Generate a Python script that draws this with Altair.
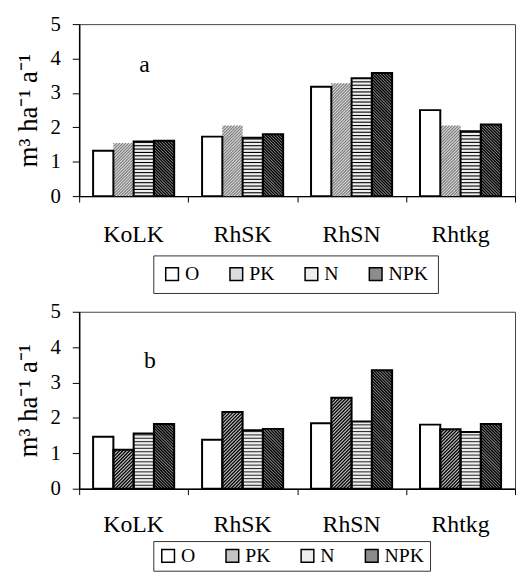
import altair as alt
import numpy as np
import pandas as pd

categories = ["KoLK", "RhSK", "RhSN", "Rhtkg"]
series = ["O", "PK", "N", "NPK"]
values_a = {
    "O":   [1.32, 1.73, 3.18, 2.50],
    "PK":  [1.54, 2.05, 3.28, 2.05],
    "N":   [1.59, 1.70, 3.43, 1.89],
    "NPK": [1.61, 1.80, 3.58, 2.08],
}
values_b = {
    "O":   [1.47, 1.38, 1.85, 1.81],
    "PK":  [1.10, 2.17, 2.57, 1.68],
    "N":   [1.56, 1.65, 1.90, 1.60],
    "NPK": [1.83, 1.69, 3.35, 1.83],
}
y_ticks = [0, 1, 2, 3, 4, 5]

FONT = "Liberation Serif"
W = 441
BW = 0.186  # bar width in category units


def bars_df(vals):
    rows = []
    for i, c in enumerate(categories):
        for j, s in enumerate(series):
            x0 = i + 0.5 - 2 * BW + j * BW
            rows.append(dict(cat=c, series=s, x=x0, x2=x0 + BW, v=vals[s][i]))
    return pd.DataFrame(rows)


def hatch_df(vals, H, styles):
    sx = W / 4.0
    sy = H / 5.0
    rows = []
    for i, c in enumerate(categories):
        for j, s in enumerate(series):
            if s not in styles:
                continue
            kind, sp, col, sw = styles[s]
            v = vals[s][i]
            x0 = i + 0.5 - 2 * BW + j * BW
            Wp = BW * sx
            Hp = v * sy
            if kind == "-":
                for yy in np.arange(sp, Hp - 0.5, sp):
                    rows.append(dict(x=x0, x2=x0 + BW, y=yy / sy, y2=yy / sy, col=col, sw=sw))
            elif kind == "/":
                for cc in np.arange(-Wp + sp / 2, Hp, sp):
                    xa = max(0.0, -cc)
                    xb = min(Wp, Hp - cc)
                    if xb > xa:
                        rows.append(dict(x=x0 + xa / sx, x2=x0 + xb / sx,
                                         y=(xa + cc) / sy, y2=(xb + cc) / sy, col=col, sw=sw))
            else:  # backslash
                for cc in np.arange(sp / 2, Wp + Hp, sp):
                    xa = max(0.0, cc - Hp)
                    xb = min(Wp, cc)
                    if xb > xa:
                        rows.append(dict(x=x0 + xa / sx, x2=x0 + xb / sx,
                                         y=(cc - xa) / sy, y2=(cc - xb) / sy, col=col, sw=sw))
    return pd.DataFrame(rows)


AX_X = alt.Axis(values=[0, 1, 2, 3, 4], labels=False, title=None, grid=False,
                tickSize=6, tickColor="black", domainColor="black", domainWidth=1.5)
AX_Y = alt.Axis(values=y_ticks, title="m³ ha⁻¹ a⁻¹", grid=False, tickSize=7,
                labelOverlap=False, tickColor="black", domainColor="black", domainWidth=1.5,
                labelFont=FONT, labelFontSize=21, labelColor="black", labelPadding=12,
                titleFont=FONT, titleFontSize=27, titleFontWeight="normal",
                titleColor="black", titlePadding=8)


def panel(vals, H, letter, letter_pos, fills, styles, no_outline, label_dy, legend_dy, lpad):
    xs = alt.Scale(domain=[0, 4], nice=False, zero=False)
    ys = alt.Scale(domain=[0, 5], nice=False)
    bdf = bars_df(vals)
    base = alt.Chart(bdf)
    fill = base.mark_rect(strokeWidth=0).encode(
        x=alt.X("x:Q", scale=xs, axis=AX_X),
        x2="x2:Q",
        y=alt.Y("v:Q", scale=ys, axis=AX_Y),
        y2=alt.datum(0),
        fill=alt.Fill("series:N", scale=alt.Scale(domain=series, range=fills),
                      legend=alt.Legend(title=None, orient="none", legendX=75, legendY=H + legend_dy,
                                        direction="horizontal", symbolType="square",
                                        symbolSize=165, symbolStrokeColor="black",
                                        symbolStrokeWidth=1.5, labelFont=FONT, labelFontSize=20,
                                        labelColor="black", columnPadding=27, padding=lpad,
                                        strokeColor="#333", labelOffset=3)),
    )
    hdf = hatch_df(vals, H, styles)
    hatch = alt.Chart(hdf).mark_rule().encode(
        x=alt.X("x:Q", scale=xs, axis=AX_X), x2="x2:Q",
        y=alt.Y("y:Q", scale=ys, axis=AX_Y), y2="y2:Q",
        color=alt.Color("col:N", scale=None),
        strokeWidth=alt.StrokeWidth("sw:Q", scale=None),
    )
    outline = base.transform_filter(
        alt.FieldOneOfPredicate(field="series", oneOf=[s for s in series if s not in no_outline])
    ).mark_rect(fillOpacity=0, stroke="black", strokeWidth=2).encode(
        x=alt.X("x:Q", scale=xs, axis=AX_X), x2="x2:Q",
        y=alt.Y("v:Q", scale=ys, axis=AX_Y), y2=alt.datum(0),
    )
    cat_df = pd.DataFrame({"cat": categories, "xc": [i + 0.5 for i in range(len(categories))]})
    cats = alt.Chart(cat_df).mark_text(font=FONT, fontSize=24, color="black", dy=label_dy,
                                       baseline="middle").encode(
        x=alt.X("xc:Q", scale=xs, axis=AX_X), y=alt.YDatum(0, scale=ys, axis=AX_Y), text="cat:N")
    let_df = pd.DataFrame({"t": [letter], "x": [letter_pos[0]], "y": [letter_pos[1]]})
    let = alt.Chart(let_df).mark_text(font=FONT, fontSize=24, color="black").encode(
        x=alt.X("x:Q", scale=xs, axis=AX_X), y=alt.Y("y:Q", scale=ys, axis=AX_Y), text="t:N")
    return alt.layer(fill, hatch, outline, cats, let).properties(width=W, height=H)


styles_a = {"PK": ("/", 3.0, "#7a7a7a", 1.1), "N": ("-", 3.4, "black", 1.1), "NPK": ("\\", 3.0, "black", 1.3)}
styles_b = {"PK": ("/", 3.4, "black", 1.3), "N": ("-", 3.4, "#333", 1.1), "NPK": ("\\", 3.0, "black", 1.3)}

pa = panel(values_a, 174, "a", (0.6, 3.8), ["white", "#dcdcdc", "#eeeeee", "#8c8c8c"],
           styles_a, ["PK"], 39, 60, 9)
pb = panel(values_b, 179, "b", (0.65, 3.6), ["white", "#c4c4c4", "#eeeeee", "#8c8c8c"],
           styles_b, [], 37, 53, 5)

chart = alt.vconcat(pa, pb, spacing=6).resolve_scale(fill="independent").configure_view(
    stroke="#444", strokeWidth=1
).properties(background="white", padding={"left": 6, "top": 1, "right": 2, "bottom": 0})

chart.save("out.html", embed_options={"renderer": "svg", "actions": False})
